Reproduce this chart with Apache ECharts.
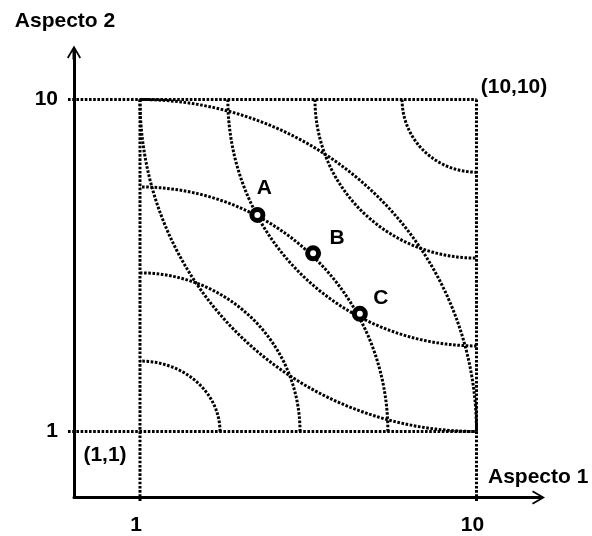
<!DOCTYPE html>
<html>
<head>
<meta charset="utf-8">
<script src="https://cdn.jsdelivr.net/npm/echarts@6/dist/echarts.min.js"></script>
<style>
  html, body { margin: 0; padding: 0; background: #fff; }
  #chart { width: 592px; height: 536px; }
</style>
</head>
<body>
<div id="chart"></div>
<script>
// Square of feasible combinations, from (1,1) to (10,10)
const corners = [1, 10];

// Quarter arcs around the lower-left corner (1,1): radii along each axis
const lowerArcRadiusX = [2.14, 4.28, 6.63, 9];
const lowerArcRadiusY = [1.91, 4.30, 6.63, 9];

// Quarter arcs around the upper-right corner (10,10)
const upperArcRadiusX = [1.99, 4.32, 6.65, 9];
const upperArcRadiusY = [1.97, 4.30, 6.68, 9];

// Marked combinations
const pointNames = ['A', 'B', 'C'];
const pointX = [4.14, 5.63, 6.88];
const pointY = [6.87, 5.83, 4.19];

// Tick labels shown on both axes
const tickValues = [1, 10];

// Axis titles
const xTitle = 'Aspecto 1';
const yTitle = 'Aspecto 2';

// ---- presentation ----
const FONT = '"Liberation Sans", Arial, sans-serif';
const TEXT = { color: '#000', fontFamily: FONT, fontWeight: 'bold', fontSize: 21 };
const X_MIN = -0.765, X_MAX = 11.645;
const Y_MIN = -0.789, Y_MAX = 11.274;
const DOT = { stroke: '#000', fill: null, lineWidth: 3, lineDash: [2.6, 1.6] };
const ARROW = 'path://M7,0 L14,12 L12.5,13 L8.5,6 L8.5,14 L5.5,14 L5.5,6 L1.5,13 L0,12 Z';
const pointLabelOffsets = { A: [7, -27], B: [24, -15], C: [21, -16] };
const cornerLabelOffsets = [[-35, 23.5], [37.5, -12.5]];

const lo = corners[0], hi = corners[1];
const arcData = [];
lowerArcRadiusX.forEach((rx, i) => arcData.push([lo, lo, rx, lowerArcRadiusY[i], 1, 1]));
upperArcRadiusX.forEach((rx, i) => arcData.push([hi, hi, rx, upperArcRadiusY[i], -1, -1]));

// frame lines: [value, 0] horizontal at y=value, [value, 1] vertical at x=value
const frameData = [];
corners.forEach(v => { frameData.push([v, 0]); frameData.push([v, 1]); });

const chart = echarts.init(document.getElementById('chart'), null, { renderer: 'canvas' });

const axisLineCommon = {
  show: true,
  onZero: false,
  symbol: ['none', ARROW],
  symbolSize: [14, 14],
  lineStyle: { color: '#000', width: 3 }
};

chart.setOption({
  backgroundColor: '#fff',
  animation: false,
  grid: { left: 74, right: 54, top: 52.5, bottom: 38.5, containLabel: false },
  xAxis: {
    type: 'value', min: X_MIN, max: X_MAX,
    axisLine: axisLineCommon,
    axisTick: { show: false },
    splitLine: { show: false },
    axisLabel: Object.assign({ customValues: tickValues, margin: 17, padding: [0, 8, 0, 0] }, TEXT),
    name: xTitle, nameLocation: 'end', nameGap: -50,
    nameTextStyle: Object.assign({ align: 'left', verticalAlign: 'bottom', padding: [0, 0, 10, 0] }, TEXT)
  },
  yAxis: {
    type: 'value', min: Y_MIN, max: Y_MAX,
    axisLine: axisLineCommon,
    axisTick: { show: false },
    splitLine: { show: false },
    axisLabel: Object.assign({ customValues: tickValues, margin: 16, padding: [4, 0, 0, 0] }, TEXT),
    name: yTitle, nameLocation: 'end', nameGap: 21,
    nameTextStyle: Object.assign({ align: 'center', padding: [0, 18, 0, 0] }, TEXT)
  },
  series: [
    {
      type: 'custom',
      name: 'frame',
      data: frameData,
      z: 2,
      renderItem(params, api) {
        const v = api.value(0);
        const vertical = api.value(1) === 1;
        let p0, p1;
        if (vertical) {
          p0 = api.coord([v, hi]);
          p1 = api.coord([v, Y_MIN]);
          p1[1] += 5;
        } else {
          p0 = api.coord([X_MIN, v]);
          p0[0] -= 6;
          p1 = api.coord([hi, v]);
        }
        return { type: 'line', shape: { x1: p0[0], y1: p0[1], x2: p1[0], y2: p1[1] }, style: DOT };
      }
    },
    {
      type: 'custom',
      name: 'arcs',
      data: arcData,
      z: 3,
      renderItem(params, api) {
        const cx = api.value(0), cy = api.value(1);
        const rx = api.value(2), ry = api.value(3);
        const sx = api.value(4), sy = api.value(5);
        const pts = [];
        for (let deg = 0; deg <= 90; deg += 1) {
          const t = deg * Math.PI / 180;
          pts.push(api.coord([cx + sx * rx * Math.cos(t), cy + sy * ry * Math.sin(t)]));
        }
        return { type: 'polyline', shape: { points: pts }, style: DOT };
      }
    },
    {
      type: 'scatter',
      name: 'corners',
      z: 4,
      symbolSize: 0,
      silent: true,
      itemStyle: { opacity: 1 },
      data: corners.map((v, i) => ({
        value: [v, v],
        label: Object.assign({
          show: true,
          formatter: '(' + v + ',' + v + ')',
          position: 'inside',
          offset: cornerLabelOffsets[i]
        }, TEXT)
      }))
    },
    {
      type: 'scatter',
      name: 'points',
      z: 5,
      symbol: 'circle',
      symbolSize: 11,
      itemStyle: { color: '#fff', borderColor: '#000', borderWidth: 5, opacity: 1 },
      data: pointNames.map((n, i) => ({
        name: n,
        value: [pointX[i], pointY[i]],
        label: Object.assign({
          show: true,
          formatter: n,
          position: 'inside',
          offset: pointLabelOffsets[n]
        }, TEXT)
      }))
    }
  ]
});
</script>
</body>
</html>
